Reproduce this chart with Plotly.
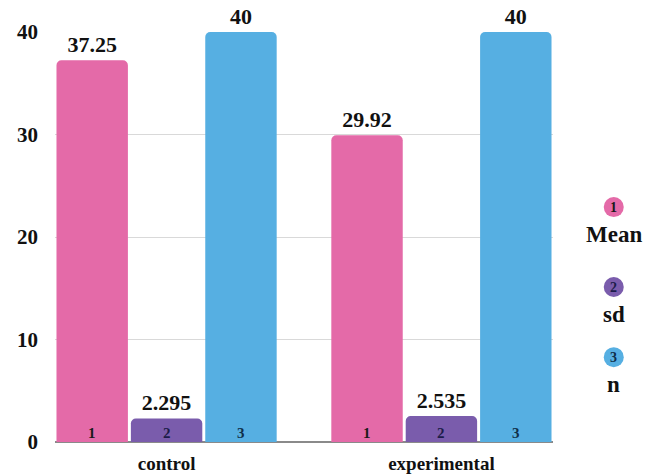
import plotly.graph_objects as go

# Data
groups = ["control", "experimental"]
series_names = ["Mean", "sd", "n"]
series_ids = ["1", "2", "3"]
mean_vals = [37.25, 29.92]
sd_vals = [2.295, 2.535]
n_vals = [40, 40]
value_labels = [["37.25", "29.92"], ["2.295", "2.535"], ["40", "40"]]
y_ticks = [0, 10, 20, 30, 40]

colors = ["#E46AA8", "#7A5CAC", "#56AFE2"]
id_colors = ["#1a1a1a", "#1c1c4a", "#10304a"]
serif = "Liberation Serif, Times New Roman, serif"

bargap = 0.188
slot = (1 - bargap) / 3
xpos = list(range(len(groups)))

fig = go.Figure()
for k, vals in enumerate([mean_vals, sd_vals, n_vals]):
    fig.add_trace(go.Bar(
        x=xpos, y=vals, name=series_names[k],
        marker=dict(color=colors[k], line=dict(width=0)),
        text=value_labels[k], textposition="outside",
        textfont=dict(family=serif, size=22, color="#111", weight="bold"),
        cliponaxis=False, showlegend=False,
    ))
    # series number at the foot of each bar
    for g in xpos:
        fig.add_annotation(
            x=g + (k - 1) * slot, y=0, xref="x", yref="y",
            text=series_ids[k], showarrow=False, yanchor="bottom", yshift=-1,
            font=dict(family=serif, size=15, color=id_colors[k], weight="bold"),
        )

# Right-hand key: numbered circles with series names underneath
key_x = 1.122
key_y = [0.573, 0.378, 0.207]
for k in range(3):
    fig.add_shape(
        type="circle", xref="paper", yref="paper",
        xsizemode="pixel", ysizemode="pixel",
        xanchor=key_x, yanchor=key_y[k],
        x0=-10, x1=10, y0=-10, y1=10,
        fillcolor=colors[k], line=dict(width=0),
    )
    fig.add_annotation(
        x=key_x, y=key_y[k], xref="paper", yref="paper", showarrow=False,
        text=series_ids[k], xanchor="center", yanchor="middle",
        font=dict(family=serif, size=14, color=id_colors[k], weight="bold"),
    )
    fig.add_annotation(
        x=key_x, y=key_y[k], xref="paper", yref="paper", showarrow=False,
        text=series_names[k], xanchor="center", yanchor="top", yshift=-13,
        font=dict(family=serif, size=23, color="#111", weight="bold"),
    )

fig.update_layout(
    width=669, height=474,
    margin=dict(l=55, r=116, t=32, b=32, autoexpand=False),
    paper_bgcolor="white", plot_bgcolor="white",
    barmode="group", bargap=bargap, bargroupgap=0.04,
    barcornerradius=5,
    showlegend=False,
)
fig.update_xaxes(
    tickmode="array", tickvals=xpos, ticktext=groups,
    range=[-0.5 + bargap / 2, len(groups) - 0.5 - bargap / 2],
    showgrid=False, ticks="", ticklabelstandoff=8, automargin=False,
    tickfont=dict(family=serif, size=19, color="#111", weight="bold"),
)
fig.update_yaxes(
    range=[0, 40], tickmode="array", tickvals=y_ticks,
    showgrid=True, gridcolor="#d9d9d9", gridwidth=1,
    zeroline=True, zerolinecolor="#8a8a8a", zerolinewidth=1.5,
    ticks="", ticklabelstandoff=16, automargin=False,
    tickfont=dict(family=serif, size=21, color="#111", weight="bold"),
)

fig.write_html("out.html")
